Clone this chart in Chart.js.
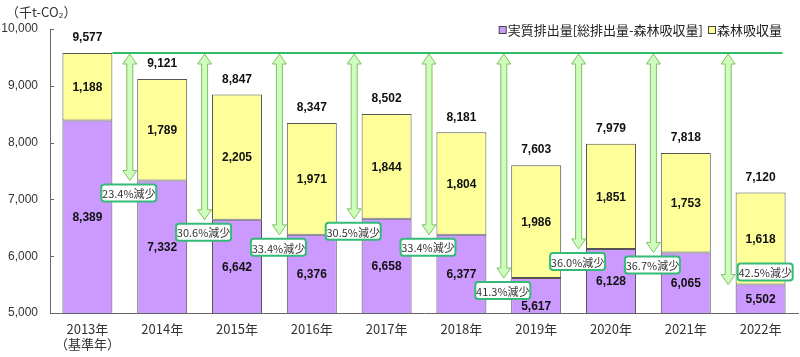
<!DOCTYPE html>
<html>
<head>
<meta charset="utf-8">
<script src="https://cdn.jsdelivr.net/npm/chart.js@4.4.0/dist/chart.umd.min.js"></script>
<style>
html,body{margin:0;padding:0;background:#fff;}
#wrap{position:relative;width:800px;height:357px;}
</style>
</head>
<body>
<div id="wrap"><canvas id="c" width="800" height="357"></canvas></div>
<script>
const years = ['2013年','2014年','2015年','2016年','2017年','2018年','2019年','2020年','2021年','2022年'];
const actual = [8389, 7332, 6642, 6376, 6658, 6377, 5617, 6128, 6065, 5502];
const forest = [1188, 1789, 2205, 1971, 1844, 1804, 1986, 1851, 1753, 1618];
const totals = [9577, 9121, 8847, 8347, 8502, 8181, 7603, 7979, 7818, 7120];
const reductions = ['23.4','30.6','33.4','30.5','33.4','41.3','36.0','36.7','42.5'];
const yMin = 5000, yMax = 10000, yStep = 1000;
const seriesNames = ['実質排出量[総排出量-森林吸収量]','森林吸収量'];
const unitLabel = '（千t-CO₂）';
const baseYearNote = '（基準年）';

const PURPLE = '#cc99ff', YELLOW = '#ffff99', EDGE = '#555555';
const FONT = "'Liberation Sans','Noto Sans CJK JP',sans-serif";
const JFONT = "'Noto Sans CJK JP','Liberation Sans',sans-serif";

function fmt(v){ return v.toLocaleString('en-US'); }

function drawArrow(ctx, x, yTop, yBot){
  const sw = 3, hw = 7, hl = 10;
  ctx.beginPath();
  ctx.moveTo(x, yTop);
  ctx.lineTo(x+hw, yTop+hl);
  ctx.lineTo(x+sw, yTop+hl);
  ctx.lineTo(x+sw, yBot-hl);
  ctx.lineTo(x+hw, yBot-hl);
  ctx.lineTo(x, yBot);
  ctx.lineTo(x-hw, yBot-hl);
  ctx.lineTo(x-sw, yBot-hl);
  ctx.lineTo(x-sw, yTop+hl);
  ctx.lineTo(x-hw, yTop+hl);
  ctx.closePath();
  ctx.fillStyle = '#ccffbb';
  ctx.fill();
  ctx.strokeStyle = '#88bb66';
  ctx.lineWidth = 1;
  ctx.stroke();
}

function roundRect(ctx, x, y, w, h, r){
  ctx.beginPath();
  ctx.moveTo(x+r, y);
  ctx.lineTo(x+w-r, y);
  ctx.quadraticCurveTo(x+w, y, x+w, y+r);
  ctx.lineTo(x+w, y+h-r);
  ctx.quadraticCurveTo(x+w, y+h, x+w-r, y+h);
  ctx.lineTo(x+r, y+h);
  ctx.quadraticCurveTo(x, y+h, x, y+h-r);
  ctx.lineTo(x, y+r);
  ctx.quadraticCurveTo(x, y, x+r, y);
  ctx.closePath();
}

function boxRect(chart, i){
  const xs = chart.scales.x, ys = chart.scales.y;
  const xa = (xs.getPixelForValue(i) + xs.getPixelForValue(i+1))/2 + 5;
  const yEnd = ys.getPixelForValue(actual[i+1]);
  const w = 55, h = 17;
  let cx = xa - 1, top = yEnd + 4;
  if (i === reductions.length - 1){ cx = xa + 37; top = yEnd - 21; }
  return {xa, yEnd, cx, top, w, h, left: cx - w/2, right: cx + w/2, bottom: top + h};
}

const overlay = {
  id: 'overlay',
  afterDatasetsDraw(chart){
    const ctx = chart.ctx;
    const ys = chart.scales.y;
    const m0 = chart.getDatasetMeta(0).data;
    const m1 = chart.getDatasetMeta(1).data;
    const boxes = reductions.map((r, i) => boxRect(chart, i));
    ctx.save();
    // segment labels
    ctx.font = "bold 12px " + FONT;
    ctx.fillStyle = '#111';
    ctx.textAlign = 'center';
    ctx.textBaseline = 'middle';
    for (let i = 0; i < years.length; i++){
      const p = m0[i];
      const top = ys.getPixelForValue(actual[i]);
      const bot = ys.getPixelForValue(yMin);
      let ly = (top+bot)/2 + 1;
      const tw = ctx.measureText(fmt(actual[i])).width;
      boxes.forEach(b => {
        if (p.x - tw/2 < b.right && p.x + tw/2 > b.left && ly - 6 < b.bottom && ly + 6 > b.top){
          ly = b.bottom + 8;
        }
      });
      ctx.fillText(fmt(actual[i]), p.x, ly);
      const q = m1[i];
      const t2 = ys.getPixelForValue(totals[i]);
      ctx.fillText(fmt(forest[i]), q.x, (top+t2)/2 + 1);
      ctx.fillText(fmt(totals[i]), q.x, t2 - 15);
    }
    // baseline green line
    const yBase = ys.getPixelForValue(totals[0]);
    const x0 = m0[0].x + m0[0].width/2;
    const xN = m0[years.length-1].x + m0[years.length-1].width/2 - 3;
    ctx.strokeStyle = '#33bb66';
    ctx.lineWidth = 2;
    ctx.beginPath();
    ctx.moveTo(x0, yBase);
    ctx.lineTo(xN, yBase);
    ctx.stroke();
    // arrows and boxes
    boxes.forEach(b => drawArrow(ctx, b.xa, yBase + 1, b.yEnd));
    boxes.forEach((b, i) => {
      roundRect(ctx, b.left, b.top, b.w, b.h, 3);
      ctx.fillStyle = '#ffffff';
      ctx.fill();
      ctx.strokeStyle = '#33bb77';
      ctx.lineWidth = 2;
      ctx.stroke();
      ctx.fillStyle = '#333';
      ctx.font = "11px " + JFONT;
      ctx.textAlign = 'center';
      ctx.textBaseline = 'middle';
      ctx.fillText(reductions[i] + '%減少', b.cx, b.top + b.h/2 + 1);
    });
    ctx.restore();
  },
  afterDraw(chart){
    const ctx = chart.ctx;
    const ys = chart.scales.y;
    ctx.save();
    // inside tick marks
    ctx.strokeStyle = '#666';
    ctx.lineWidth = 1;
    for (let v = yMin; v <= yMax; v += yStep){
      const y = Math.round(ys.getPixelForValue(v)) + 0.5;
      ctx.beginPath();
      ctx.moveTo(ys.right, y);
      ctx.lineTo(ys.right + 4, y);
      ctx.stroke();
    }
    // unit label
    ctx.fillStyle = '#333';
    ctx.font = "13px " + JFONT;
    ctx.textAlign = 'left';
    ctx.textBaseline = 'middle';
    ctx.fillText(unitLabel, 6, 12);
    // legend (right aligned)
    ctx.font = "13px " + JFONT;
    ctx.textAlign = 'right';
    const items = [
      {text: seriesNames[0], color: PURPLE, end: 703},
      {text: seriesNames[1], color: YELLOW, end: 782}
    ];
    items.forEach(it => {
      const w = ctx.measureText(it.text).width;
      const mx = it.end - w - 9;
      ctx.fillStyle = it.color;
      ctx.fillRect(mx + 0.5, 26.5, 7, 7);
      ctx.strokeStyle = '#444';
      ctx.lineWidth = 1;
      ctx.strokeRect(mx + 0.5, 26.5, 7, 7);
      ctx.fillStyle = '#222';
      ctx.fillText(it.text, it.end, 30);
    });
    ctx.restore();
  }
};

new Chart(document.getElementById('c'), {
  type: 'bar',
  data: {
    labels: years.map((y, i) => i === 0 ? [y, baseYearNote] : y),
    datasets: [
      {label: seriesNames[0], data: actual, backgroundColor: PURPLE, borderColor: EDGE, borderWidth: 1, borderSkipped: false, barPercentage: 0.668, categoryPercentage: 1},
      {label: seriesNames[1], data: forest, backgroundColor: YELLOW, borderColor: EDGE, borderWidth: 1, borderSkipped: false, barPercentage: 0.668, categoryPercentage: 1}
    ]
  },
  options: {
    responsive: false,
    animation: false,
    events: [],
    layout: {padding: {top: 29, right: 2, left: 0, bottom: 0}},
    plugins: {legend: {display: false}, tooltip: {enabled: false}},
    scales: {
      x: {
        stacked: true,
        grid: {display: false, drawTicks: false, tickLength: 0},
        border: {display: true, color: '#666', width: 1},
        ticks: {color: '#333', font: {size: 13, family: JFONT}, padding: 8, maxRotation: 0, autoSkip: false},
        afterFit(s){ s.height = 44; }
      },
      y: {
        stacked: true,
        min: yMin, max: yMax,
        grid: {display: false, drawTicks: false, tickLength: 0},
        border: {display: true, color: '#666', width: 1},
        ticks: {stepSize: yStep, color: '#333', font: {size: 12, family: FONT}, padding: 12,
                callback: v => fmt(v)},
        afterFit(s){ s.width = 50; }
      }
    }
  },
  plugins: [overlay]
});
</script>
</body>
</html>
